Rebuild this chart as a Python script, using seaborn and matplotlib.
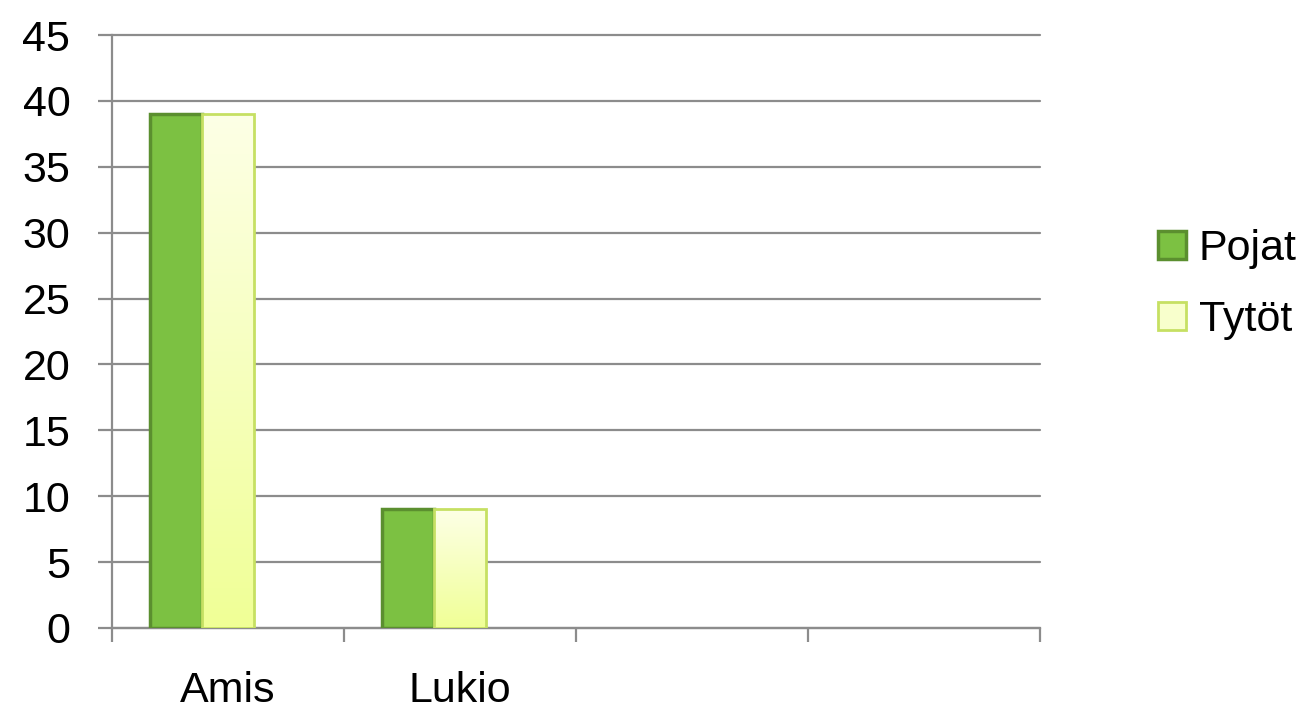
import numpy as np
import pandas as pd
import matplotlib
matplotlib.use("Agg")
import matplotlib.pyplot as plt
import seaborn as sns

# Données
categories = ["Amis", "Lukio"]
pojat = [39, 9]
tytot = [39, 9]
tyhja = [0, 0]  # troisième série vide (décale les barres à gauche)
series = ["Pojat", "Tytöt", "_tyhja"]
yticks = [0, 5, 10, 15, 20, 25, 30, 35, 40, 45]

df = pd.DataFrame({
    "luokka": categories * 3,
    "arvo": pojat + tytot + tyhja,
    "sarja": [series[0]] * 2 + [series[1]] * 2 + [series[2]] * 2,
})

sns.set_style("white")
plt.rcParams["font.family"] = ["Liberation Sans", "DejaVu Sans"]

fig = plt.figure(figsize=(13.15, 7.15), dpi=100)
ax = fig.add_axes([0.0852, 0.1217, 0.7057, 0.8293])

green = "#7CC142"
green_edge = "#5B8F2F"
yellow_edge = "#C6E063"
palette = {"Pojat": green, "Tytöt": "#F6FFC0", "_tyhja": "white"}

sns.barplot(data=df, x="luokka", y="arvo", hue="sarja", hue_order=series,
            order=categories, palette=palette, width=0.67, ax=ax,
            saturation=1, legend=False, zorder=3)

n = len(categories)
patches = ax.patches
cmap = matplotlib.colors.LinearSegmentedColormap.from_list("g", ["#FDFFE6", "#F0FF96"])
for p in patches[:n]:
    p.set_edgecolor(green_edge)
    p.set_linewidth(2.5)
for p in patches[n:2 * n]:
    p.set_edgecolor(yellow_edge)
    p.set_linewidth(2)
    # dégradé vertical (clair en haut, jaune en bas)
    x0, y0 = p.get_x(), p.get_y()
    w, h = p.get_width(), p.get_height()
    grad = np.linspace(0, 1, 256).reshape(-1, 1)
    im = ax.imshow(grad, cmap=cmap, aspect="auto", extent=[x0, x0 + w, y0, y0 + h],
                   origin="upper", zorder=3.5)
    im.set_clip_path(p)
    p.set_zorder(4)
    p.set_facecolor("none")
for p in patches[2 * n:]:
    p.set_visible(False)

gray = "#8C8C8C"
ax.set_xlim(-0.5, 3.5)
ax.set_ylim(0, 45)
ax.set_yticks(yticks)
ax.yaxis.grid(True, color=gray, linewidth=1.6, zorder=0)
for gl in ax.get_ygridlines():
    gl.set_clip_on(False)
ax.set_axisbelow(True)
for s in ["top", "right"]:
    ax.spines[s].set_visible(False)
for s in ["left", "bottom"]:
    ax.spines[s].set_color(gray)
    ax.spines[s].set_linewidth(1.6)

ax.set_xticks(range(n))
ax.set_xticklabels(categories)
ax.set_xticks(np.arange(-0.5, 4, 1), minor=True)
ax.tick_params(axis="x", which="major", length=0, pad=31, labelsize=31, labelcolor="black")
ax.tick_params(axis="x", which="minor", bottom=True, length=10, width=1.6, color=gray, direction="out")
ax.tick_params(axis="y", left=True, length=10, width=1.6, color=gray, direction="out",
               pad=20, labelsize=31, labelcolor="black")
ax.set_xlabel("")
ax.set_ylabel("")

handles = [matplotlib.patches.Patch(facecolor=green, edgecolor=green_edge, linewidth=2.5, label="Pojat"),
           matplotlib.patches.Patch(facecolor="#F8FFCC", edgecolor=yellow_edge, linewidth=2, label="Tytöt")]
fig.legend(handles=handles, loc="center left", bbox_to_anchor=(0.864, 0.602),
           frameon=False, fontsize=31, handlelength=0.65, handleheight=0.65,
           handletextpad=0.3, labelspacing=0.72, borderpad=0, labelcolor="black")

fig.savefig("out.png", dpi=100)
